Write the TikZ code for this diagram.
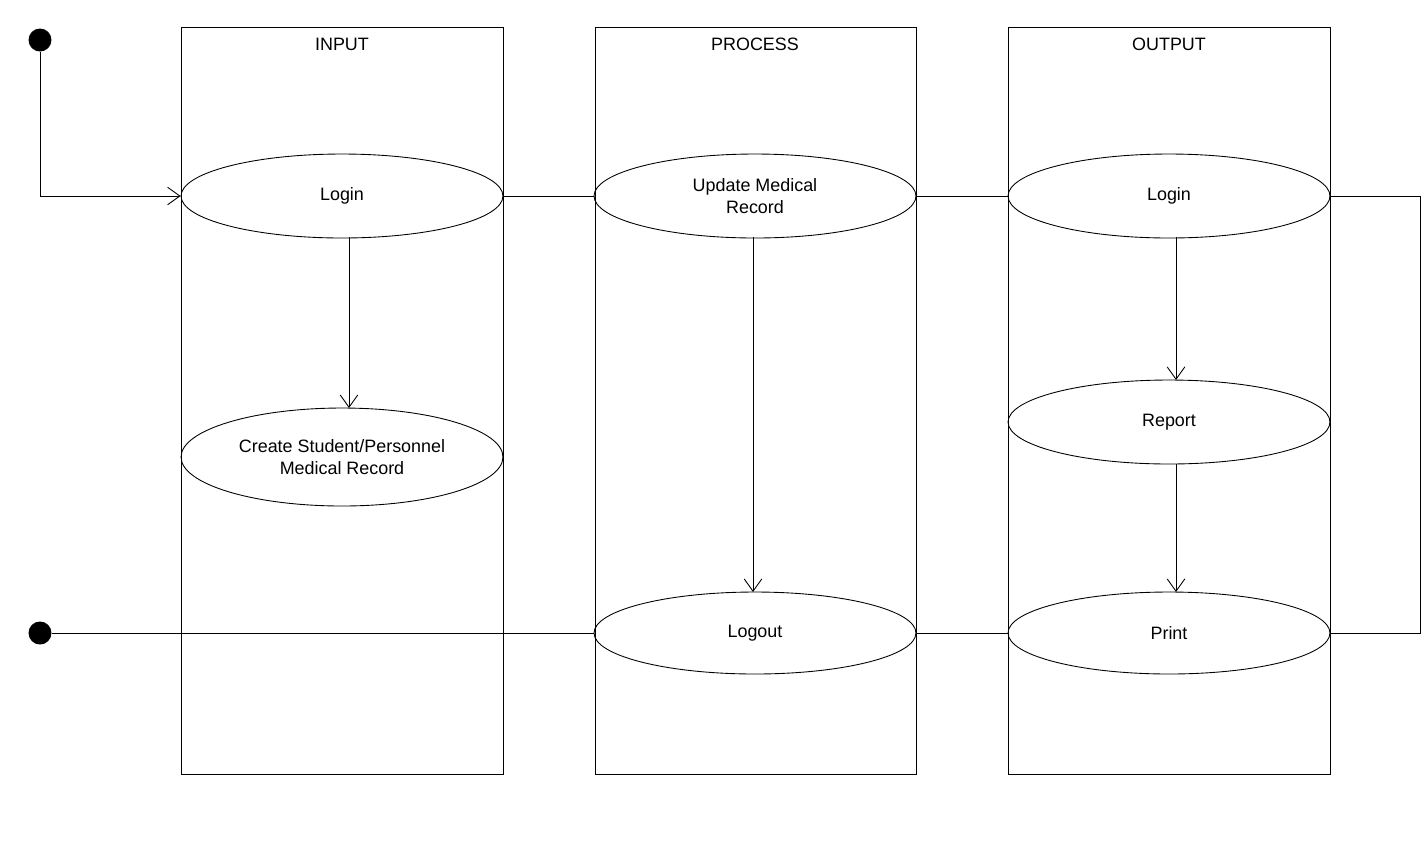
\documentclass[tikz,border=0pt]{standalone}
\usepackage{fontspec}
\setmainfont{Liberation Sans}
\usetikzlibrary{shapes.geometric,arrows.meta}
\begin{document}
\begin{tikzpicture}[x=0.02cm,y=-0.02cm,
    lane/.style={draw,line width=0.5pt},
    usecase/.style={draw,ellipse,line width=0.5pt,minimum width=6.44cm,minimum height=1.68cm,inner sep=0pt,align=center,font=\fontsize{10.2}{12.5}\selectfont},
    dot/.style={circle,fill=black,minimum size=0.46cm,inner sep=0pt},
    flow/.style={line width=0.5pt,-{Straight Barb[length=7pt,width=10pt]}},
    link/.style={line width=0.5pt}]
  \useasboundingbox (0,0) rectangle (1427,840);
  % swimlanes
  \draw[lane] (181,27) rectangle (503,774);
  \draw[lane] (595,27) rectangle (916,774);
  \draw[lane] (1008,27) rectangle (1330,774);
  \node[font=\fontsize{10.2}{12.5}\selectfont] (tin) at (342,44) {INPUT};
  \node[font=\fontsize{10.2}{12.5}\selectfont] (tproc) at (755,44) {PROCESS};
  \node[font=\fontsize{10.2}{12.5}\selectfont] (tout) at (1169,44) {OUTPUT};
  % use cases
  \node[usecase] (login) at (342,196) {Login};
  \node[usecase,minimum height=1.96cm] (create) at (342,457) {Create Student/Personnel\\Medical Record};
  \node[usecase] (update) at (755,196) {Update Medical\\Record};
  \node[usecase,minimum height=1.64cm] (logout) at (755,633) {Logout};
  \node[usecase] (login2) at (1169,196) {Login};
  \node[usecase] (report) at (1169,422) {Report};
  \node[usecase,minimum height=1.64cm] (print) at (1169,633) {Print};
  \node[dot] (start) at (40,40) {};
  \node[dot] (stop) at (40,633) {};
  \coordinate (turn) at (1420,196);
  % connectors
  \draw[flow] (start) |- (login);
  \draw[flow] (349,237) -- (349,408);
  \draw[flow] (753,237) -- (753,592);
  \draw[flow] (1176,237) -- (1176,380);
  \draw[flow] (1176,464) -- (1176,592);
  \draw[link] (login) -- (update);
  \draw[link] (update) -- (login2);
  \draw[link] (login2.east) -- (turn) |- (print.east);
  \draw[link] (logout) -- (print);
  \draw[link] (logout) -- (stop);
\end{tikzpicture}
\end{document}
